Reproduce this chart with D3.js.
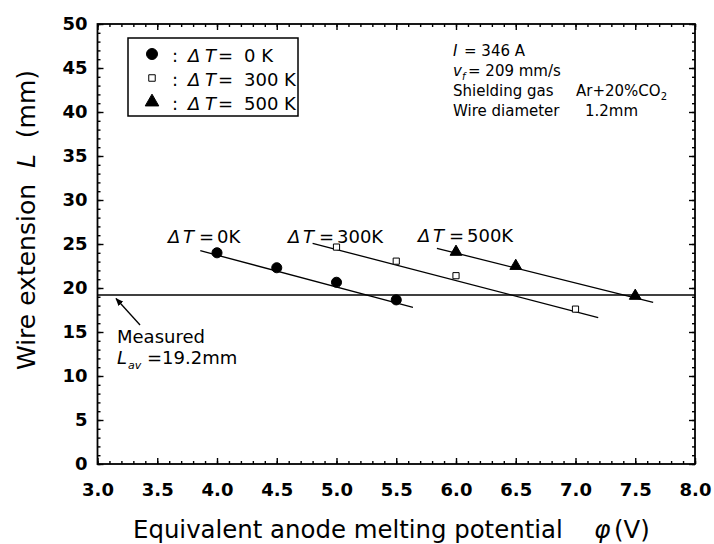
<!DOCTYPE html>
<html>
<head>
<meta charset="utf-8">
<script src="https://cdn.jsdelivr.net/npm/d3@7"></script>
<style>
  html, body { margin: 0; padding: 0; background: #fff; }
  svg text { font-family: "DejaVu Sans", sans-serif; fill: #000; white-space: pre; }
</style>
</head>
<body>
<svg id="chart" width="714" height="544"></svg>
<script>
// Wire extension L versus equivalent anode melting potential, for three ΔT values
const deltaT = [0, 300, 500];

const phi0 = [4.0, 4.5, 5.0, 5.5];
const L0   = [24.0, 22.3, 20.65, 18.65];

const phi300 = [5.0, 5.5, 6.0, 7.0];
const L300   = [24.65, 23.05, 21.4, 17.6];

const phi500 = [6.0, 6.5, 7.5];
const L500   = [24.1, 22.5, 19.1];

// fitted straight lines through each series (start / end)
const fitPhi = [[3.86, 5.64], [4.80, 7.19], [5.84, 7.65]];
const fitL   = [[24.24, 17.81], [25.08, 16.63], [24.51, 18.38]];

const measuredL = 19.2;

const xTicks = [3.0, 3.5, 4.0, 4.5, 5.0, 5.5, 6.0, 6.5, 7.0, 7.5, 8.0];
const yTicks = [0, 5, 10, 15, 20, 25, 30, 35, 40, 45, 50];
const xMinor = d3.range(30, 81).map(d => d / 10);
const yMinor = d3.range(0, 51);

const svg = d3.select("#chart");
const plot = { left: 97.5, right: 695, top: 24, bottom: 464 };

const x = d3.scaleLinear().domain([3, 8]).range([plot.left, plot.right]);
const y = d3.scaleLinear().domain([0, 50]).range([plot.bottom, plot.top]);

// ---- axes: ticks point inward on all four sides ----
function strip(g) { g.select(".domain").remove(); g.selectAll("line").attr("stroke", "#000").attr("stroke-width", 1.4); }

svg.append("g").attr("transform", `translate(0,${plot.bottom})`)
  .call(d3.axisBottom(x).tickValues(xMinor).tickSize(-3).tickSizeOuter(0).tickFormat(""))
  .call(strip);
svg.append("g").attr("transform", `translate(0,${plot.top})`)
  .call(d3.axisTop(x).tickValues(xMinor).tickSize(-3).tickSizeOuter(0).tickFormat(""))
  .call(strip);
svg.append("g").attr("transform", `translate(${plot.left},0)`)
  .call(d3.axisLeft(y).tickValues(yMinor).tickSize(-3).tickSizeOuter(0).tickFormat(""))
  .call(strip);
svg.append("g").attr("transform", `translate(${plot.right},0)`)
  .call(d3.axisRight(y).tickValues(yMinor).tickSize(-3).tickSizeOuter(0).tickFormat(""))
  .call(strip);

const xAxis = svg.append("g").attr("transform", `translate(0,${plot.bottom})`)
  .call(d3.axisBottom(x).tickValues(xTicks).tickSize(-6).tickSizeOuter(0)
    .tickPadding(19).tickFormat(d3.format(".1f")))
  .call(strip);
svg.append("g").attr("transform", `translate(0,${plot.top})`)
  .call(d3.axisTop(x).tickValues(xTicks).tickSize(-6).tickSizeOuter(0).tickFormat(""))
  .call(strip);
const yAxis = svg.append("g").attr("transform", `translate(${plot.left},0)`)
  .call(d3.axisLeft(y).tickValues(yTicks).tickSize(-6).tickSizeOuter(0).tickPadding(10))
  .call(strip);
svg.append("g").attr("transform", `translate(${plot.right},0)`)
  .call(d3.axisRight(y).tickValues(yTicks).tickSize(-6).tickSizeOuter(0).tickFormat(""))
  .call(strip);

[xAxis, yAxis].forEach(g => g.selectAll("text")
  .attr("font-family", "DejaVu Sans, sans-serif")
  .attr("font-size", 18).attr("font-weight", "bold").attr("fill", "#000"));

// frame
svg.append("rect")
  .attr("x", x(3)).attr("y", y(50))
  .attr("width", x(8) - x(3)).attr("height", y(0) - y(50))
  .attr("fill", "none").attr("stroke", "#000").attr("stroke-width", 1.8);

// ---- measured average wire extension ----
svg.append("line")
  .attr("x1", x(3)).attr("x2", x(8))
  .attr("y1", y(measuredL)).attr("y2", y(measuredL))
  .attr("stroke", "#000").attr("stroke-width", 1.4);

// ---- fitted lines ----
fitPhi.forEach((p, i) => {
  svg.append("line")
    .attr("x1", x(p[0])).attr("y1", y(fitL[i][0]))
    .attr("x2", x(p[1])).attr("y2", y(fitL[i][1]))
    .attr("stroke", "#000").attr("stroke-width", 1.3);
});

// ---- data points ----
const series = [
  { phi: phi0,   L: L0,   type: d3.symbolCircle,   size: 80, fill: "#000" },
  { phi: phi300, L: L300, type: d3.symbolSquare,   size: 38, fill: "#fff" },
  { phi: phi500, L: L500, type: d3.symbolTriangle, size: 60, fill: "#000" }
];
series.forEach(s => {
  svg.append("g").selectAll("path")
    .data(s.phi.map((p, i) => [p, s.L[i]]))
    .join("path")
    .attr("d", d3.symbol().type(s.type).size(s.size))
    .attr("transform", d => `translate(${x(d[0])},${y(d[1])})`)
    .attr("fill", s.fill).attr("stroke", "#000").attr("stroke-width", 1);
});

// ---- legend ----
const legend = svg.append("g");
legend.append("rect")
  .attr("x", 128).attr("y", 38).attr("width", 170).attr("height", 78)
  .attr("fill", "#fff").attr("stroke", "#000").attr("stroke-width", 1.5);
const legendSym = [
  { type: d3.symbolCircle, size: 95, fill: "#000" },
  { type: d3.symbolSquare, size: 42, fill: "#fff" },
  { type: d3.symbolTriangle, size: 80, fill: "#000" }
];
deltaT.forEach((dt, i) => {
  const cy = 54 + i * 24;
  legend.append("path")
    .attr("d", d3.symbol().type(legendSym[i].type).size(legendSym[i].size))
    .attr("transform", `translate(152,${cy})`)
    .attr("fill", legendSym[i].fill).attr("stroke", "#000").attr("stroke-width", 1);
  const t = legend.append("text").attr("y", cy + 8).attr("font-size", 18);
  t.append("tspan").attr("x", 172).text(":");
  t.append("tspan").attr("x", 188).attr("font-style", "italic").text("Δ");
  t.append("tspan").attr("x", 205).attr("font-style", "italic").text("T");
  t.append("tspan").attr("x", 218).text("=");
  t.append("tspan").attr("x", 244).text(`${dt} K`);
});

// ---- series labels ----
const labelPos = [[168, 243], [288, 243], [418, 242]];
deltaT.forEach((dt, i) => {
  const [lx, ly] = labelPos[i];
  const t = svg.append("text").attr("y", ly).attr("font-size", 18);
  t.append("tspan").attr("x", lx).attr("font-style", "italic").text("Δ");
  t.append("tspan").attr("x", lx + 15).attr("font-style", "italic").text("T");
  t.append("tspan").attr("x", lx + 31).text("=");
  t.append("tspan").attr("x", lx + 49).text(`${dt}K`);
});

// ---- conditions ----
const cond = svg.append("g").attr("font-size", 15);
const c1 = cond.append("text").attr("y", 56);
c1.append("tspan").attr("x", 453).attr("font-style", "italic").text("I");
c1.append("tspan").attr("x", 464).text("= 346 A");
const c2 = cond.append("text").attr("y", 76);
c2.append("tspan").attr("x", 453).attr("font-style", "italic").text("v");
c2.append("tspan").attr("x", 462).attr("dy", 4).attr("font-size", 10).attr("font-style", "italic").text("f");
c2.append("tspan").attr("x", 468).attr("dy", -4).text("= 209 mm/s");
cond.append("text").attr("x", 453).attr("y", 96).text("Shielding gas");
const c3 = cond.append("text").attr("y", 96);
c3.append("tspan").attr("x", 576).text("Ar+20%CO");
c3.append("tspan").attr("dy", 4).attr("font-size", 10).text("2");
cond.append("text").attr("x", 453).attr("y", 116).text("Wire diameter");
cond.append("text").attr("x", 585).attr("y", 116).text("1.2mm");

// ---- measured annotation ----
svg.append("defs").append("marker")
  .attr("id", "arrowHead").attr("viewBox", "0 0 10 10")
  .attr("refX", 9).attr("refY", 5)
  .attr("markerWidth", 8).attr("markerHeight", 8).attr("markerUnits", "userSpaceOnUse")
  .attr("orient", "auto")
  .append("path").attr("d", "M0,1 L10,5 L0,9 Z").attr("fill", "#000");
svg.append("line")
  .attr("x1", x(3.356)).attr("y1", y(15.8))
  .attr("x2", x(3.155)).attr("y2", y(18.8))
  .attr("stroke", "#000").attr("stroke-width", 1.3)
  .attr("marker-end", "url(#arrowHead)");
svg.append("text").attr("x", 117).attr("y", 343).attr("font-size", 18).text("Measured");
const lav = svg.append("text").attr("y", 364).attr("font-size", 18);
lav.append("tspan").attr("x", 117).attr("font-style", "italic").text("L");
lav.append("tspan").attr("x", 128).attr("dy", 5).attr("font-size", 11).attr("font-style", "italic").text("av");
lav.append("tspan").attr("x", 147).attr("dy", -5).text("=19.2mm");

// ---- axis titles ----
svg.append("text").attr("x", 133).attr("y", 538).attr("font-size", 24.4)
  .text("Equivalent anode melting potential");
svg.append("text").attr("x", 594).attr("y", 538).attr("font-size", 25).attr("font-style", "italic").text("φ");
svg.append("text").attr("x", 614).attr("y", 538).attr("font-size", 24.4).text("(V)");

const yt = svg.append("text")
  .attr("transform", "translate(35,220) rotate(-90)")
  .attr("text-anchor", "middle").attr("font-size", 25);
yt.append("tspan").text("Wire extension  ");
yt.append("tspan").attr("font-style", "italic").text("L");
yt.append("tspan").text("  (mm)");
</script>
</body>
</html>
